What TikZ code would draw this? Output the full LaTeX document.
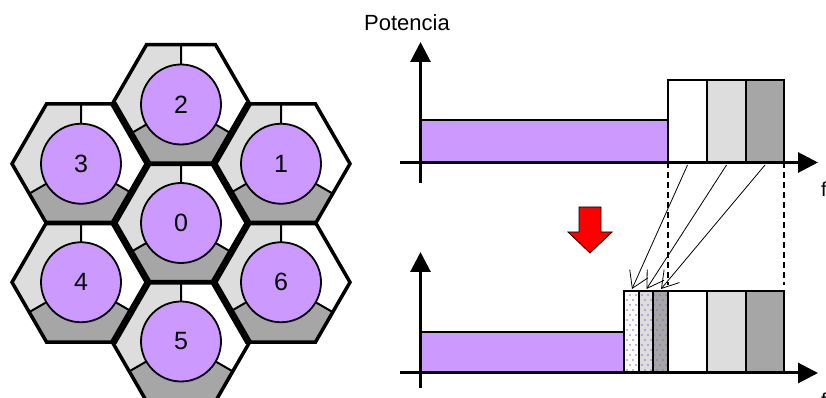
\documentclass[tikz,border=0pt]{standalone}
\usepackage{fontspec}
\setmainfont{Liberation Sans}
\usetikzlibrary{arrows.meta}
\definecolor{lila}{HTML}{CC99FF}
\definecolor{gclaro}{HTML}{DDDDDD}
\definecolor{goscuro}{HTML}{A6A6A6}
\definecolor{punto}{HTML}{9966CC}
\definecolor{rojo}{HTML}{FF0000}

\begin{document}
\begin{tikzpicture}[x=1pt,y=1pt,
  eje/.style={line width=3pt,-{Triangle[length=20pt,width=20pt]}},
  barra/.style={draw,line width=2pt},
  flecha/.style={line width=0.8pt,-{Straight Barb[length=16pt,width=20pt,line width=0.8pt]}},
  num/.style={font=\fontsize{25}{29}\selectfont}]
\useasboundingbox (0,0) rectangle (826,398);

% celdas: sectores, circulo y numero
\foreach \cx/\cy/\n in {181/175/0, 181/293.5/2, 181/56.5/5, 81/234.25/3,
                        281/234.25/1, 81/115.75/4, 281/115.75/6}{
  \begin{scope}[shift={(\cx,\cy)}]
  \fill[gclaro]  (0,0) -- (90:59.75) -- (120:69) -- (180:69) -- (210:59.75) -- cycle;
  \fill[white]   (0,0) -- (330:59.75) -- (0:69) -- (60:69) -- (90:59.75) -- cycle;
  \fill[goscuro] (0,0) -- (210:59.75) -- (240:69) -- (300:69) -- (330:59.75) -- cycle;
  \draw[line width=2pt] (0,0) -- (90:59.75) (0,0) -- (210:59.75) (0,0) -- (330:59.75);
  \draw[line width=1.8pt, fill=lila] (0,0) circle (40);
  \node[num] (c\n) at (0,0) {\n};
  \end{scope}
}
% bordes de las celdas
\foreach \cx/\cy in {181/175, 181/293.5, 181/56.5, 81/234.25,
                     281/234.25, 81/115.75, 281/115.75}
  \draw[shift={(\cx,\cy)}, line width=3.5pt]
    (0:69) -- (60:69) -- (120:69) -- (180:69) -- (240:69) -- (300:69) -- cycle;

% espectro de arriba
\node[font=\fontsize{22}{26}\selectfont] (pot) at (407,375) {Potencia};
\draw[barra, fill=lila]    (420,235.5) rectangle (668,278);
\draw[barra, fill=white]   (668,235.5) rectangle (707,318);
\draw[barra, fill=gclaro]  (707,235.5) rectangle (746,318);
\draw[barra, fill=goscuro] (746,235.5) rectangle (784,318);
\draw[eje] (400,235.5) -- (818,235.5);
\draw[eje] (420.5,215) -- (420.5,356);
\node[anchor=north west, inner sep=0pt, font=\fontsize{20}{24}\selectfont] (f1) at (821,216) {f};

% flecha roja
\draw[fill=rojo, line width=0.8pt] (579,191) -- (601,191) -- (601,166) -- (612,166)
  -- (590,145) -- (568,166) -- (579,166) -- cycle;

% espectro de abajo
\draw[barra, fill=lila]   (420,25) rectangle (624,66);
\fill[white]   (624,25) rectangle (639,107);
\fill[gclaro]  (639,25) rectangle (653,107);
\fill[goscuro] (653,25) rectangle (668,107);
\begin{scope}
\clip (624,25) rectangle (668,107);
\foreach \i in {0,...,16}
  \foreach \j in {0,...,8}
    \fill[punto] ({621+6*\j+3*mod(\i,2)},{28+5*\i}) circle (0.8);
\end{scope}
\draw[barra] (624,25) rectangle (639,107);
\draw[barra] (639,25) rectangle (653,107);
\draw[barra] (653,25) rectangle (668,107);
\draw[barra, fill=white]   (668,25) rectangle (707,107);
\draw[barra, fill=gclaro]  (707,25) rectangle (746,107);
\draw[barra, fill=goscuro] (746,25) rectangle (784,107);
\draw[eje] (400,25) -- (818,25);
\draw[eje] (420.5,10) -- (420.5,146);
\node[anchor=north west, inner sep=0pt, font=\fontsize{20}{24}\selectfont] (f2) at (821,5) {f};

% lineas de traslado
\draw[line width=1.3pt, dash pattern=on 6pt off 4pt] (668,235.5) -- (668,113);
\draw[line width=1.3pt, dash pattern=on 6pt off 4pt] (784,235.5) -- (784,113);
\coordinate (s1) at (687.5,233);
\coordinate (s2) at (726.5,233);
\coordinate (s3) at (765,233);
\coordinate (e1) at (632,109);
\coordinate (e2) at (646.5,109);
\coordinate (e3) at (661,109);
\draw[flecha] (s1) -- (e1);
\draw[flecha] (s2) -- (e2);
\draw[flecha] (s3) -- (e3);
\end{tikzpicture}
\end{document}
